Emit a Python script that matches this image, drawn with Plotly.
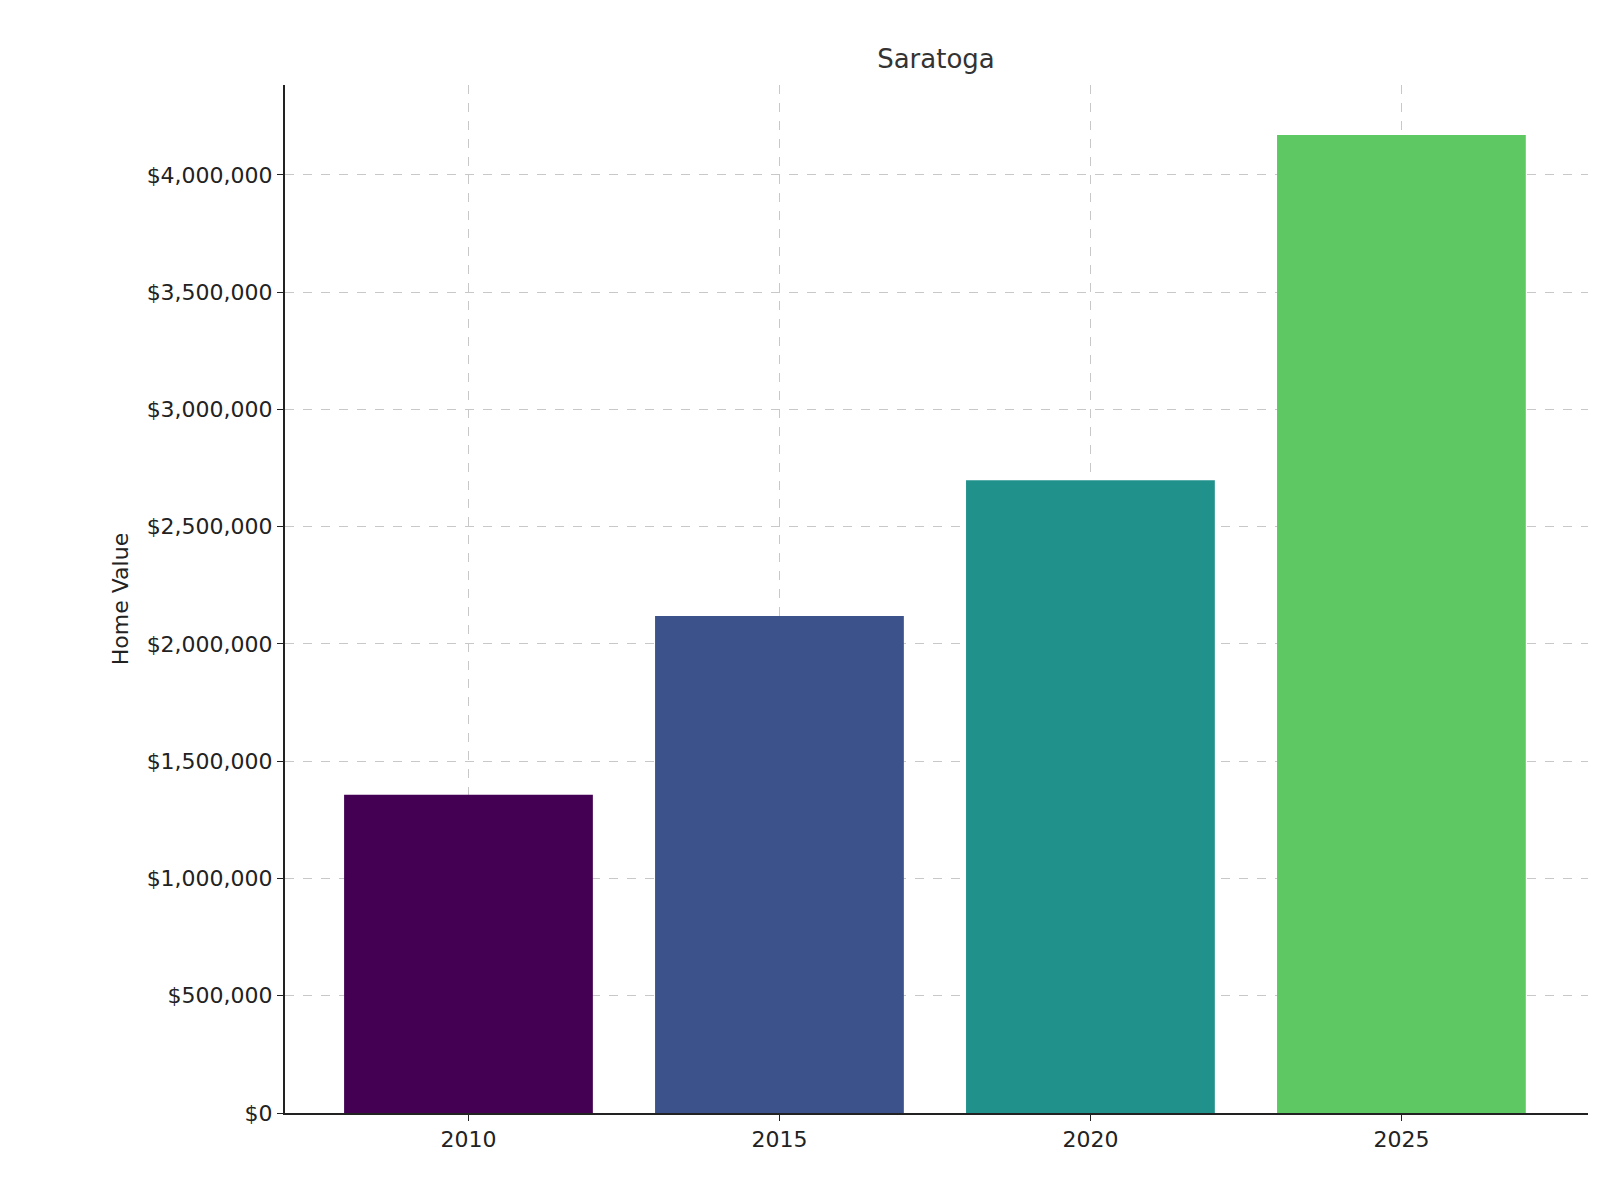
import plotly.graph_objects as go

years = ["2010", "2015", "2020", "2025"]
values = [1357000, 2119000, 2698000, 4170000]
colors = ["#440154", "#3b528b", "#21918c", "#5ec962"]
yticks = [0, 500000, 1000000, 1500000, 2000000, 2500000, 3000000, 3500000, 4000000]
ylabels = ["$" + format(v, ",") for v in yticks]

fig = go.Figure(go.Bar(x=list(range(len(years))), y=values, marker_color=colors,
                       marker_line_width=0, width=0.8))

font = dict(family="DejaVu Sans", size=22, color="#222")
fig.update_layout(
    width=1600, height=1200, plot_bgcolor="white", paper_bgcolor="white",
    margin=dict(l=277, r=20, t=77, b=95),
    title=dict(text="Saratoga", x=0.58, xanchor="center", y=0.965,
               font=dict(family="DejaVu Sans", size=26, color="#333")),
    font=font, showlegend=False,
)
fig.update_xaxes(range=[-0.59, 3.6], tickvals=list(range(len(years))), ticktext=years,
                 showgrid=True, gridcolor="#c8c8c8", griddash="dash", gridwidth=1,
                 showline=True, linecolor="#222", linewidth=2, ticks="outside",
                 ticklen=6, tickcolor="#222", layer="above traces")
fig.update_yaxes(range=[0, 4383000], tickvals=yticks, ticktext=ylabels,
                 title=dict(text="Home Value", font=font, standoff=12),
                 showgrid=True, gridcolor="#c8c8c8", griddash="dash", gridwidth=1,
                 showline=True, linecolor="#222", linewidth=2, ticks="outside",
                 ticklen=6, tickcolor="#222", zeroline=False, layer="above traces")
fig.write_html("out.html")
